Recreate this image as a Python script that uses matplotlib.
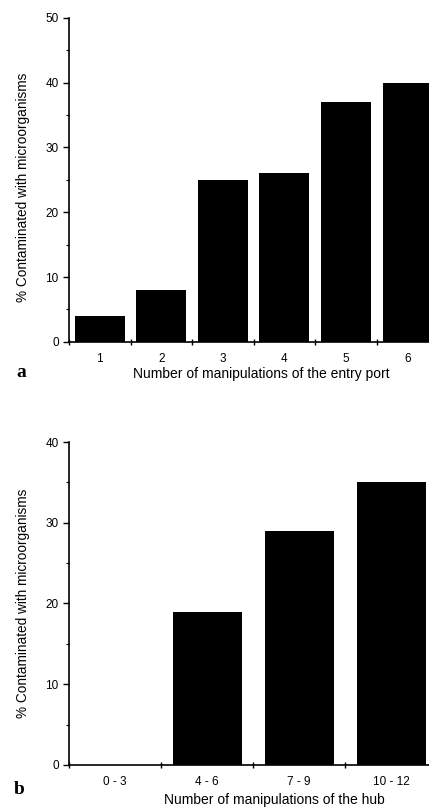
import matplotlib
matplotlib.use("Agg")
import matplotlib.pyplot as plt
import numpy as np

plt.rcParams['font.family'] = ['Liberation Sans', 'DejaVu Sans']

# panel a
a_labels = ['1', '2', '3', '4', '5', '6']
a_values = [4, 8, 25, 26, 37, 40]
# panel b
b_labels = ['0 - 3', '4 - 6', '7 - 9', '10 - 12']
b_values = [0, 19, 29, 35]

ylab = '% Contaminated with microorganisms'

fig = plt.figure(figsize=(4.29, 8.10), dpi=100)


def panel(ax, labels, values, width, xmax, ymax, xlabel, letter, xl_xy, yl_y, let_xy):
    x = np.arange(1, len(labels) + 1)
    ax.bar(x, values, width=width, color='black', align='center')
    ax.set_xlim(0.5, xmax)
    ax.set_ylim(0, ymax)
    for s in ['top', 'right']:
        ax.spines[s].set_visible(False)
    ax.spines['left'].set_linewidth(1.2)
    ax.spines['bottom'].set_linewidth(1.2)
    # ticks sit between the bars, labels under the bars
    ax.set_xticks(np.arange(0.5, len(labels) + 0.5, 1.0))
    ax.set_xticklabels([])
    ax.set_xticks(x, minor=True)
    ax.set_xticklabels(labels, minor=True)
    ax.tick_params(axis='x', which='major', direction='inout', length=5, width=1)
    ax.tick_params(axis='x', which='minor', length=0, pad=8, labelsize=8.5)
    ax.set_yticks(np.arange(0, ymax + 1, 10))
    ax.set_yticks(np.arange(0, ymax + 1, 5), minor=True)
    ax.tick_params(axis='y', which='major', direction='out', length=4.5, width=1, labelsize=8.5, pad=3)
    ax.tick_params(axis='y', which='minor', direction='out', length=2, width=0.8)
    ax.set_xlabel(xlabel, fontsize=10)
    ax.xaxis.set_label_coords(xl_xy[0], xl_xy[1])
    ax.xaxis.label.set_verticalalignment('center')
    ax.set_ylabel(ylab, fontsize=9.8)
    ax.yaxis.set_label_coords(-0.128, yl_y)
    ax.yaxis.label.set_verticalalignment('center')
    ax.text(let_xy[0], let_xy[1], letter, transform=ax.transAxes, fontsize=14,
            fontweight='bold', family='Liberation Serif', va='center', ha='center')


ax1 = fig.add_axes([0.161, 0.578, 0.839, 0.400])
panel(ax1, a_labels, a_values, 0.81, 6.35, 50,
      'Number of manipulations of the entry port', 'a',
      (0.533, -0.099), 0.478, (-0.133, -0.096))

ax2 = fig.add_axes([0.161, 0.0556, 0.839, 0.3987])
panel(ax2, b_labels, b_values, 0.75, 4.41, 40,
      'Number of manipulations of the hub', 'b',
      (0.57, -0.108), 0.5, (-0.139, -0.077))

fig.savefig('out.png', dpi=100)
